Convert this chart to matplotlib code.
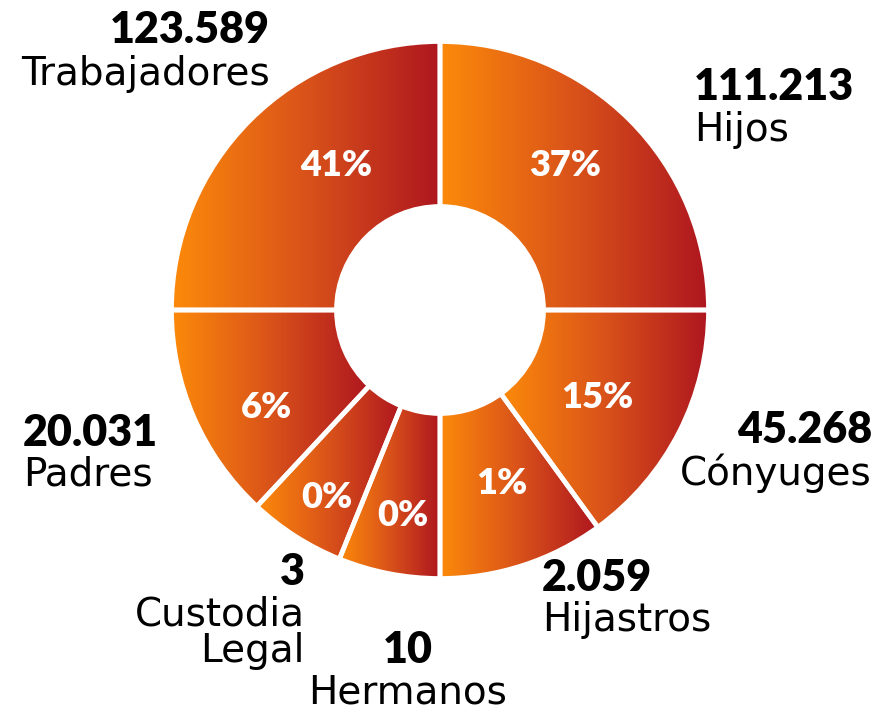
import numpy as np
import matplotlib
matplotlib.use("Agg")
import matplotlib.pyplot as plt
from matplotlib.colors import LinearSegmentedColormap

# ---- data ----
categories = ["Hijos", "Cónyuges", "Hijastros", "Hermanos", "Custodia\nLegal", "Padres", "Trabajadores"]
values = [111213, 45268, 2059, 10, 3, 20031, 123589]
value_labels = ["111.213", "45.268", "2.059", "10", "3", "20.031", "123.589"]
pct_labels = ["37%", "15%", "1%", "0%", "0%", "6%", "41%"]
# angular sweep of each slice as drawn (degrees), clockwise from 12 o'clock
span_deg = [90, 54, 36, 22, 21, 47, 90]

W, H = 882, 715
fig = plt.figure(figsize=(W / 100, H / 100), dpi=100)
ax = fig.add_axes([0, 0, 1, 1])

cx, cy = 440, H - 310
R_out, ring_w = 268.5, 165

wedges, _ = ax.pie(span_deg, startangle=90, counterclock=False,
                   center=(cx, cy), radius=R_out, frame=True,
                   wedgeprops=dict(width=ring_w, facecolor="none",
                                   edgecolor="white", linewidth=3.4))

cmap = LinearSegmentedColormap.from_list("og", ["#FC8A0A", "#D9521A", "#AE161F"])
grad = np.linspace(0, 1, 256).reshape(1, -1)
for w in wedges:
    w.set_zorder(3)
    ext = w.get_path().get_extents()
    im = ax.imshow(grad, cmap=cmap, aspect="auto", zorder=1,
                   extent=[ext.x0, ext.x1, ext.y0, ext.y1], interpolation="bilinear")
    im.set_clip_path(w)

ax.set_xlim(0, W)
ax.set_ylim(0, H)
ax.set_aspect("equal")
ax.axis("off")

BOLD = "Lato"
REG = "DejaVu Sans"
# percent labels inside slices
pct_pos = [(565, 165), (597, 397), (502, 484), (403, 515), (327, 498), (266, 408), (336, 165)]
for (x, y), t in zip(pct_pos, pct_labels):
    ax.text(x, H - y, t, color="white", fontsize=26, fontweight="heavy",
            family=BOLD, ha="center", va="center", zorder=5)

# outer labels: (x, y_value, y_name, ha)
outer = [
    (694, 87, 130, "left"),      # Hijos
    (872, 430, 473, "right"),    # Cónyuges
    (542, 578, 620, "left"),     # Hijastros
    (408, 650, 692, "center"),   # Hermanos
    (305, 572, 633, "right"),    # Custodia Legal
    (23, 433, 475, "left"),      # Padres
    (270, 30, 74, "right"),      # Trabajadores
]
for (x, yv, yn, ha), v, name in zip(outer, value_labels, categories):
    ax.text(x, H - yv, v, color="black", fontsize=31, fontweight="heavy",
            family=BOLD, ha=ha, va="center")
    ax.text(x, H - yn, name, color="black", fontsize=28, family=REG,
            ha=ha, va="center", linespacing=0.95,
            multialignment=ha if ha != "center" else "center")

fig.savefig("out.png", dpi=100)
